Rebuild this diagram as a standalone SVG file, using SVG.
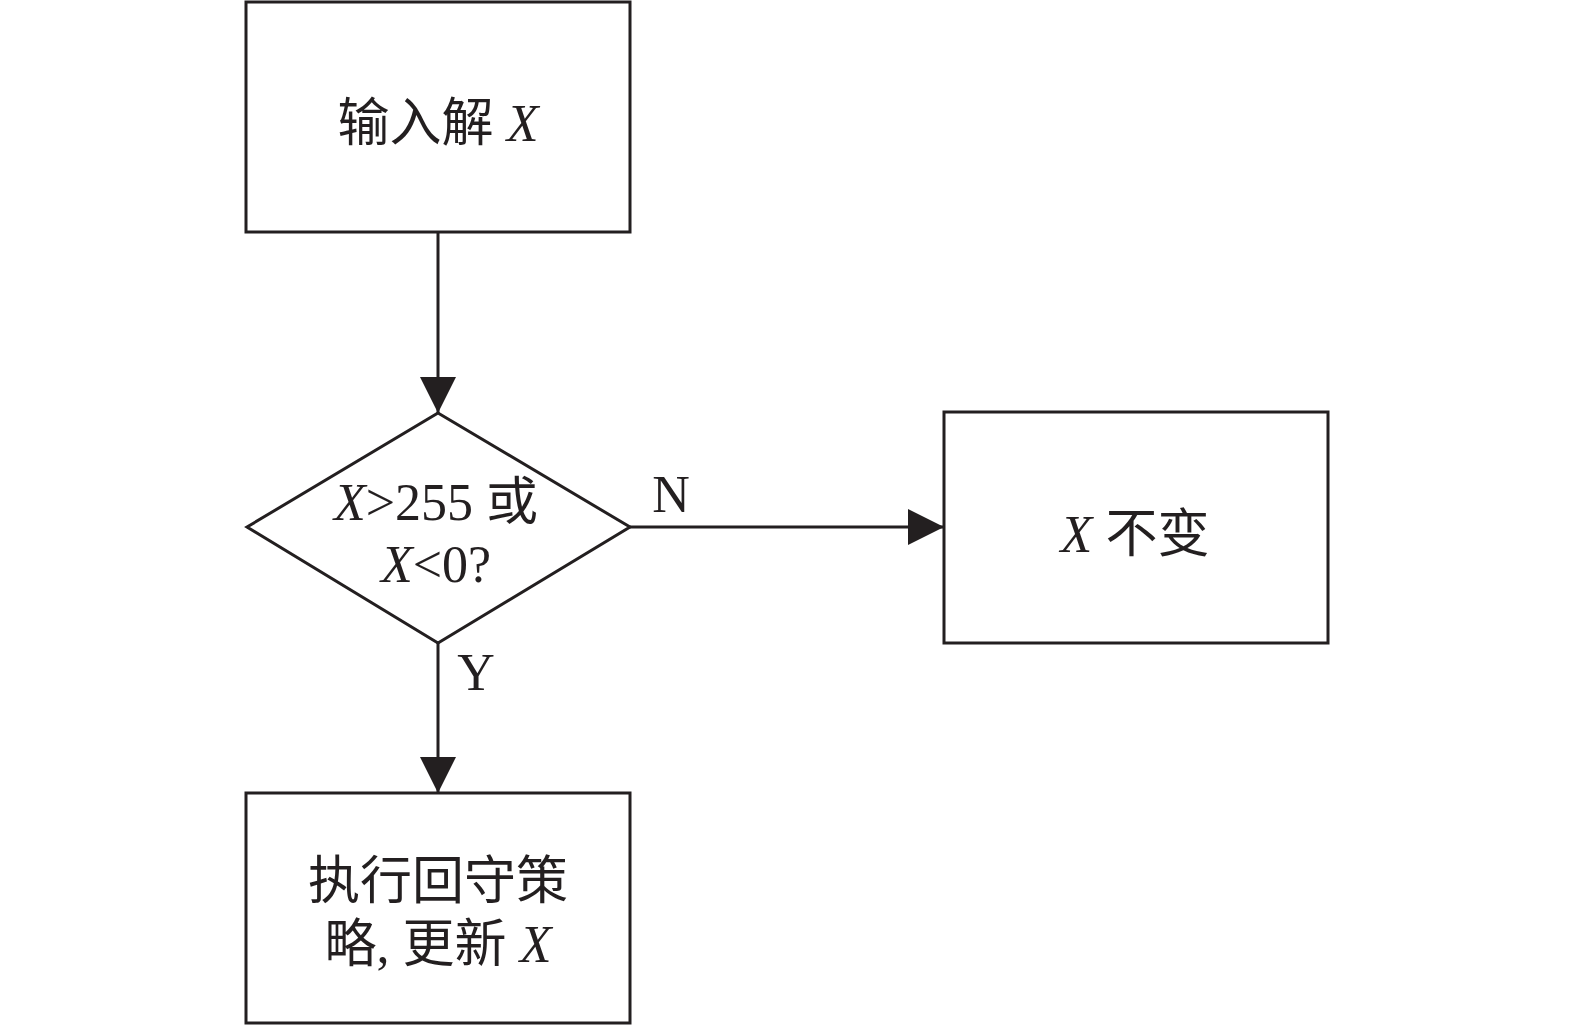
<svg xmlns="http://www.w3.org/2000/svg" width="1575" height="1026" viewBox="0 0 1575 1026">
<defs>
<style>
.box{fill:#fff;stroke:#231f20;stroke-width:3}
.line{stroke:#231f20;stroke-width:3;fill:none}
.t{font-family:"Liberation Serif","Noto Sans CJK SC",serif;font-size:52px;fill:#231f20;text-anchor:middle}
.i{font-style:italic}
</style>
<marker id="arr" viewBox="0 0 36 36" refX="36" refY="18" markerWidth="36" markerHeight="36" markerUnits="userSpaceOnUse" orient="auto">
<path d="M0,0 L36,18 L0,36 Z" fill="#231f20"/>
</marker>
</defs>
<rect width="1575" height="1026" fill="#fff"/>
<g id="connectors">
<line class="line" x1="438" y1="232" x2="438" y2="413" marker-end="url(#arr)"/>
<line class="line" x1="630" y1="527" x2="944" y2="527" marker-end="url(#arr)"/>
<line class="line" x1="438" y1="643" x2="438" y2="793" marker-end="url(#arr)"/>
<text class="t" x="671" y="512" font-size="47">N</text>
<text class="t" x="476" y="690" font-size="47">Y</text>
</g>
<g id="input">
<rect class="box" x="246" y="2" width="384" height="230"/>
<text class="t" x="438" y="141">输入解 <tspan class="i">X</tspan></text>
</g>
<g id="decision">
<polygon class="box" points="438,413 630,527 438,643 247,527"/>
<text class="t" x="436" y="520"><tspan class="i">X</tspan>&gt;255 或</text>
<text class="t" x="436" y="582"><tspan class="i">X</tspan>&lt;0?</text>
</g>
<g id="unchanged">
<rect class="box" x="944" y="412" width="384" height="231"/>
<text class="t" x="1135" y="552"><tspan class="i">X</tspan> 不变</text>
</g>
<g id="strategy">
<rect class="box" x="246" y="793" width="384" height="230"/>
<text class="t" x="438" y="899">执行回守策</text>
<text class="t" x="438" y="962">略, 更新 <tspan class="i">X</tspan></text>
</g>
</svg>
